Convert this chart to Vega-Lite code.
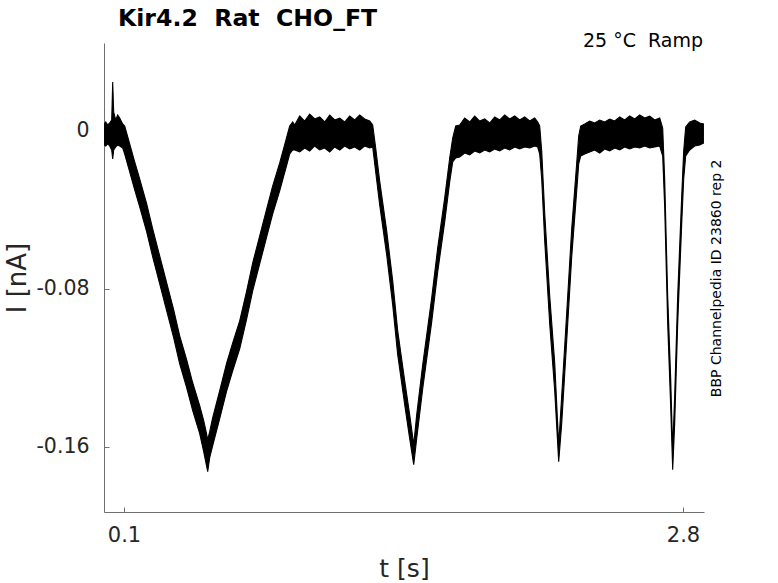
{
  "$schema": "https://vega.github.io/schema/vega-lite/v6.json",
  "width": 600,
  "height": 469,
  "autosize": {"type": "none"},
  "padding": {"left": 104, "top": 43, "right": 74, "bottom": 71},
  "background": "white",
  "config": {"view": {"stroke": null}, "font": "DejaVu Sans"},
  "title": {
    "text": "Kir4.2\u00a0\u00a0Rat\u00a0\u00a0CHO_FT",
    "anchor": "start",
    "frame": "group",
    "dx": 14,
    "offset": 1,
    "fontSize": 23.6,
    "fontWeight": "bold",
    "font": "DejaVu Sans",
    "color": "#000000"
  },
  "data": {
    "values": [
      {"t": 0.0034, "hi": 0.00354, "lo": -0.00709},
      {"t": 0.0116, "hi": 0.00456, "lo": -0.00759},
      {"t": 0.0213, "hi": 0.00304, "lo": -0.00658},
      {"t": 0.0309, "hi": 0.00405, "lo": -0.00759},
      {"t": 0.0406, "hi": 0.00557, "lo": -0.00962},
      {"t": 0.0454, "hi": 0.02481, "lo": -0.01418},
      {"t": 0.0502, "hi": 0.00962, "lo": -0.00962},
      {"t": 0.0599, "hi": 0.00557, "lo": -0.0081},
      {"t": 0.0696, "hi": 0.0081, "lo": -0.00709},
      {"t": 0.0792, "hi": 0.00658, "lo": -0.00759},
      {"t": 0.0937, "hi": 0.00354, "lo": -0.00861},
      {"t": 0.1034, "hi": 0.00253, "lo": -0.01165},
      {"t": 0.1275, "hi": -0.00658, "lo": -0.02076},
      {"t": 0.1517, "hi": -0.0157, "lo": -0.02987},
      {"t": 0.1758, "hi": -0.0243, "lo": -0.03848},
      {"t": 0.2096, "hi": -0.03696, "lo": -0.05114},
      {"t": 0.2386, "hi": -0.04962, "lo": -0.0638},
      {"t": 0.2724, "hi": -0.06329, "lo": -0.07747},
      {"t": 0.3062, "hi": -0.07696, "lo": -0.09114},
      {"t": 0.34, "hi": -0.09063, "lo": -0.10481},
      {"t": 0.369, "hi": -0.1038, "lo": -0.11797},
      {"t": 0.4028, "hi": -0.11595, "lo": -0.13013},
      {"t": 0.4318, "hi": -0.1276, "lo": -0.14177},
      {"t": 0.4656, "hi": -0.13924, "lo": -0.15342},
      {"t": 0.4849, "hi": -0.14684, "lo": -0.16253},
      {"t": 0.4946, "hi": -0.15139, "lo": -0.1676},
      {"t": 0.5043, "hi": -0.15646, "lo": -0.17266},
      {"t": 0.5139, "hi": -0.15241, "lo": -0.16557},
      {"t": 0.5284, "hi": -0.14532, "lo": -0.15949},
      {"t": 0.5622, "hi": -0.13165, "lo": -0.14582},
      {"t": 0.596, "hi": -0.11747, "lo": -0.13165},
      {"t": 0.625, "hi": -0.10734, "lo": -0.12152},
      {"t": 0.6588, "hi": -0.0962, "lo": -0.11038},
      {"t": 0.6926, "hi": -0.08101, "lo": -0.09519},
      {"t": 0.7216, "hi": -0.06684, "lo": -0.08101},
      {"t": 0.7554, "hi": -0.05316, "lo": -0.06734},
      {"t": 0.7892, "hi": -0.03949, "lo": -0.05367},
      {"t": 0.8182, "hi": -0.02785, "lo": -0.04203},
      {"t": 0.852, "hi": -0.0162, "lo": -0.03038},
      {"t": 0.881, "hi": -0.00506, "lo": -0.01924},
      {"t": 0.9003, "hi": 0.00253, "lo": -0.01165},
      {"t": 0.9148, "hi": 0.00456, "lo": -0.00962},
      {"t": 0.9245, "hi": 0.00304, "lo": -0.00962},
      {"t": 0.9486, "hi": 0.00759, "lo": -0.01063},
      {"t": 0.9727, "hi": 0.00506, "lo": -0.00861},
      {"t": 0.9969, "hi": 0.00861, "lo": -0.01013},
      {"t": 1.021, "hi": 0.00608, "lo": -0.00759},
      {"t": 1.0452, "hi": 0.00709, "lo": -0.00962},
      {"t": 1.0693, "hi": 0.00456, "lo": -0.00861},
      {"t": 1.0935, "hi": 0.0081, "lo": -0.01063},
      {"t": 1.1176, "hi": 0.00557, "lo": -0.0081},
      {"t": 1.1418, "hi": 0.00658, "lo": -0.00962},
      {"t": 1.1659, "hi": 0.00456, "lo": -0.00759},
      {"t": 1.1901, "hi": 0.00759, "lo": -0.00911},
      {"t": 1.2142, "hi": 0.00557, "lo": -0.0081},
      {"t": 1.2384, "hi": 0.0081, "lo": -0.00962},
      {"t": 1.2625, "hi": 0.00608, "lo": -0.00759},
      {"t": 1.2867, "hi": 0.00506, "lo": -0.00861},
      {"t": 1.3012, "hi": 0.00304, "lo": -0.0081},
      {"t": 1.3157, "hi": -0.00861, "lo": -0.02076},
      {"t": 1.335, "hi": -0.02532, "lo": -0.03747},
      {"t": 1.3688, "hi": -0.05063, "lo": -0.06278},
      {"t": 1.3978, "hi": -0.07595, "lo": -0.0881},
      {"t": 1.422, "hi": -0.10127, "lo": -0.11342},
      {"t": 1.4558, "hi": -0.12658, "lo": -0.13873},
      {"t": 1.4799, "hi": -0.1438, "lo": -0.15595},
      {"t": 1.4993, "hi": -0.15899, "lo": -0.16911},
      {"t": 1.5137, "hi": -0.1438, "lo": -0.15595},
      {"t": 1.5427, "hi": -0.11848, "lo": -0.13063},
      {"t": 1.5862, "hi": -0.08456, "lo": -0.09671},
      {"t": 1.6152, "hi": -0.05924, "lo": -0.07139},
      {"t": 1.649, "hi": -0.03392, "lo": -0.04608},
      {"t": 1.6731, "hi": -0.01367, "lo": -0.02582},
      {"t": 1.6876, "hi": -0.00354, "lo": -0.0157},
      {"t": 1.7021, "hi": 0.00253, "lo": -0.01367},
      {"t": 1.7214, "hi": 0.00304, "lo": -0.01316},
      {"t": 1.7456, "hi": 0.00658, "lo": -0.01114},
      {"t": 1.7697, "hi": 0.00456, "lo": -0.01215},
      {"t": 1.7939, "hi": 0.00759, "lo": -0.01013},
      {"t": 1.818, "hi": 0.00506, "lo": -0.01114},
      {"t": 1.8422, "hi": 0.00608, "lo": -0.00962},
      {"t": 1.8663, "hi": 0.00405, "lo": -0.01063},
      {"t": 1.8905, "hi": 0.00709, "lo": -0.00911},
      {"t": 1.9146, "hi": 0.00557, "lo": -0.01013},
      {"t": 1.9388, "hi": 0.0081, "lo": -0.00861},
      {"t": 1.9629, "hi": 0.00608, "lo": -0.00962},
      {"t": 1.9871, "hi": 0.00759, "lo": -0.0081},
      {"t": 2.0112, "hi": 0.00557, "lo": -0.00911},
      {"t": 2.0354, "hi": 0.00709, "lo": -0.0081},
      {"t": 2.0595, "hi": 0.00506, "lo": -0.00861},
      {"t": 2.0837, "hi": 0.00658, "lo": -0.00759},
      {"t": 2.0982, "hi": 0.00456, "lo": -0.0081},
      {"t": 2.1078, "hi": 0.00253, "lo": -0.01165},
      {"t": 2.1175, "hi": -0.01013, "lo": -0.0243},
      {"t": 2.132, "hi": -0.04152, "lo": -0.0557},
      {"t": 2.1561, "hi": -0.08354, "lo": -0.09772},
      {"t": 2.1803, "hi": -0.11747, "lo": -0.13165},
      {"t": 2.1996, "hi": -0.15899, "lo": -0.1676},
      {"t": 2.2141, "hi": -0.13418, "lo": -0.14835},
      {"t": 2.2383, "hi": -0.09215, "lo": -0.10633},
      {"t": 2.2624, "hi": -0.04962, "lo": -0.0638},
      {"t": 2.2866, "hi": -0.0162, "lo": -0.03038},
      {"t": 2.2962, "hi": -0.00253, "lo": -0.01671},
      {"t": 2.3059, "hi": 0.00253, "lo": -0.01266},
      {"t": 2.3252, "hi": 0.00354, "lo": -0.01165},
      {"t": 2.3493, "hi": 0.00506, "lo": -0.01063},
      {"t": 2.3735, "hi": 0.00405, "lo": -0.00962},
      {"t": 2.3976, "hi": 0.00557, "lo": -0.01114},
      {"t": 2.4218, "hi": 0.00456, "lo": -0.00911},
      {"t": 2.4459, "hi": 0.00608, "lo": -0.01013},
      {"t": 2.4701, "hi": 0.00506, "lo": -0.00861},
      {"t": 2.4942, "hi": 0.00709, "lo": -0.00962},
      {"t": 2.5184, "hi": 0.00557, "lo": -0.0081},
      {"t": 2.5425, "hi": 0.00759, "lo": -0.00911},
      {"t": 2.5667, "hi": 0.00608, "lo": -0.0081},
      {"t": 2.5908, "hi": 0.0081, "lo": -0.00861},
      {"t": 2.615, "hi": 0.00658, "lo": -0.00759},
      {"t": 2.6391, "hi": 0.00759, "lo": -0.00861},
      {"t": 2.6633, "hi": 0.00557, "lo": -0.0081},
      {"t": 2.6874, "hi": 0.00658, "lo": -0.00759},
      {"t": 2.7019, "hi": 0.00152, "lo": -0.01266},
      {"t": 2.7115, "hi": -0.0243, "lo": -0.03848},
      {"t": 2.726, "hi": -0.08354, "lo": -0.09772},
      {"t": 2.7405, "hi": -0.12557, "lo": -0.13975},
      {"t": 2.7502, "hi": -0.16152, "lo": -0.17165},
      {"t": 2.7598, "hi": -0.13418, "lo": -0.14835},
      {"t": 2.7743, "hi": -0.08354, "lo": -0.09772},
      {"t": 2.7937, "hi": -0.03291, "lo": -0.04709},
      {"t": 2.8033, "hi": -0.01013, "lo": -0.0243},
      {"t": 2.813, "hi": 0.00203, "lo": -0.01266},
      {"t": 2.8323, "hi": 0.00456, "lo": -0.00962},
      {"t": 2.8565, "hi": 0.00557, "lo": -0.00759},
      {"t": 2.8806, "hi": 0.00405, "lo": -0.00709},
      {"t": 2.8999, "hi": 0.00354, "lo": -0.00608}
    ]
  },
  "layer": [
    {
      "mark": {"type": "area", "color": "#000000", "stroke": "#000000", "strokeWidth": 1.1, "clip": true},
      "encoding": {
        "x": {
          "field": "t",
          "type": "quantitative",
          "scale": {"domain": [0.0034, 2.9014], "nice": false, "zero": false},
          "axis": {
            "values": [0.1, 2.8],
            "format": ".1f",
            "title": "t [s]",
            "grid": false,
            "domainColor": "#707070",
            "tickColor": "#707070",
            "tickSize": -5,
            "labelPadding": 17,
            "labelFontSize": 21,
            "labelColor": "#262626",
            "labelFont": "DejaVu Sans",
            "titleFont": "DejaVu Sans",
            "titleFontSize": 25,
            "titleFontWeight": "normal",
            "titleColor": "#262626",
            "titleBaseline": "middle",
            "titleY": 56
          }
        },
        "y": {
          "field": "hi",
          "type": "quantitative",
          "scale": {"domain": [-0.1931, 0.0446], "nice": false, "zero": false},
          "axis": {
            "values": [-0.16, -0.08, 0],
            "labelExpr": "datum.value == 0 ? '0' : '-' + format(abs(datum.value), '.2f')",
            "title": "I [nA]",
            "grid": false,
            "domainColor": "#707070",
            "tickColor": "#707070",
            "tickSize": -5,
            "labelPadding": 20,
            "labelFontSize": 20.5,
            "labelColor": "#262626",
            "labelFont": "DejaVu Sans",
            "titleFont": "DejaVu Sans",
            "titleFontSize": 26,
            "titleFontWeight": "normal",
            "titleColor": "#262626",
            "titleBaseline": "middle",
            "titleAngle": -90,
            "titleX": -87
          }
        },
        "y2": {"field": "lo"}
      }
    },
    {
      "data": {"values": [{"note": "25 °C  Ramp"}]},
      "mark": {"type": "text", "align": "right", "baseline": "middle", "fontSize": 19, "font": "DejaVu Sans", "color": "#000000"},
      "encoding": {
        "x": {"datum": 2.8966},
        "y": {"datum": 0.0456},
        "text": {"value": "25 °C\u00a0\u00a0Ramp"}
      }
    },
    {
      "data": {"values": [{"note": "id"}]},
      "mark": {"type": "text", "align": "center", "baseline": "middle", "angle": 270, "fontSize": 14, "font": "DejaVu Sans", "color": "#000000"},
      "encoding": {
        "x": {"datum": 2.9627},
        "y": {"datum": -0.0747},
        "text": {"value": "BBP Channelpedia ID 23860 rep 2"}
      }
    }
  ]
}
